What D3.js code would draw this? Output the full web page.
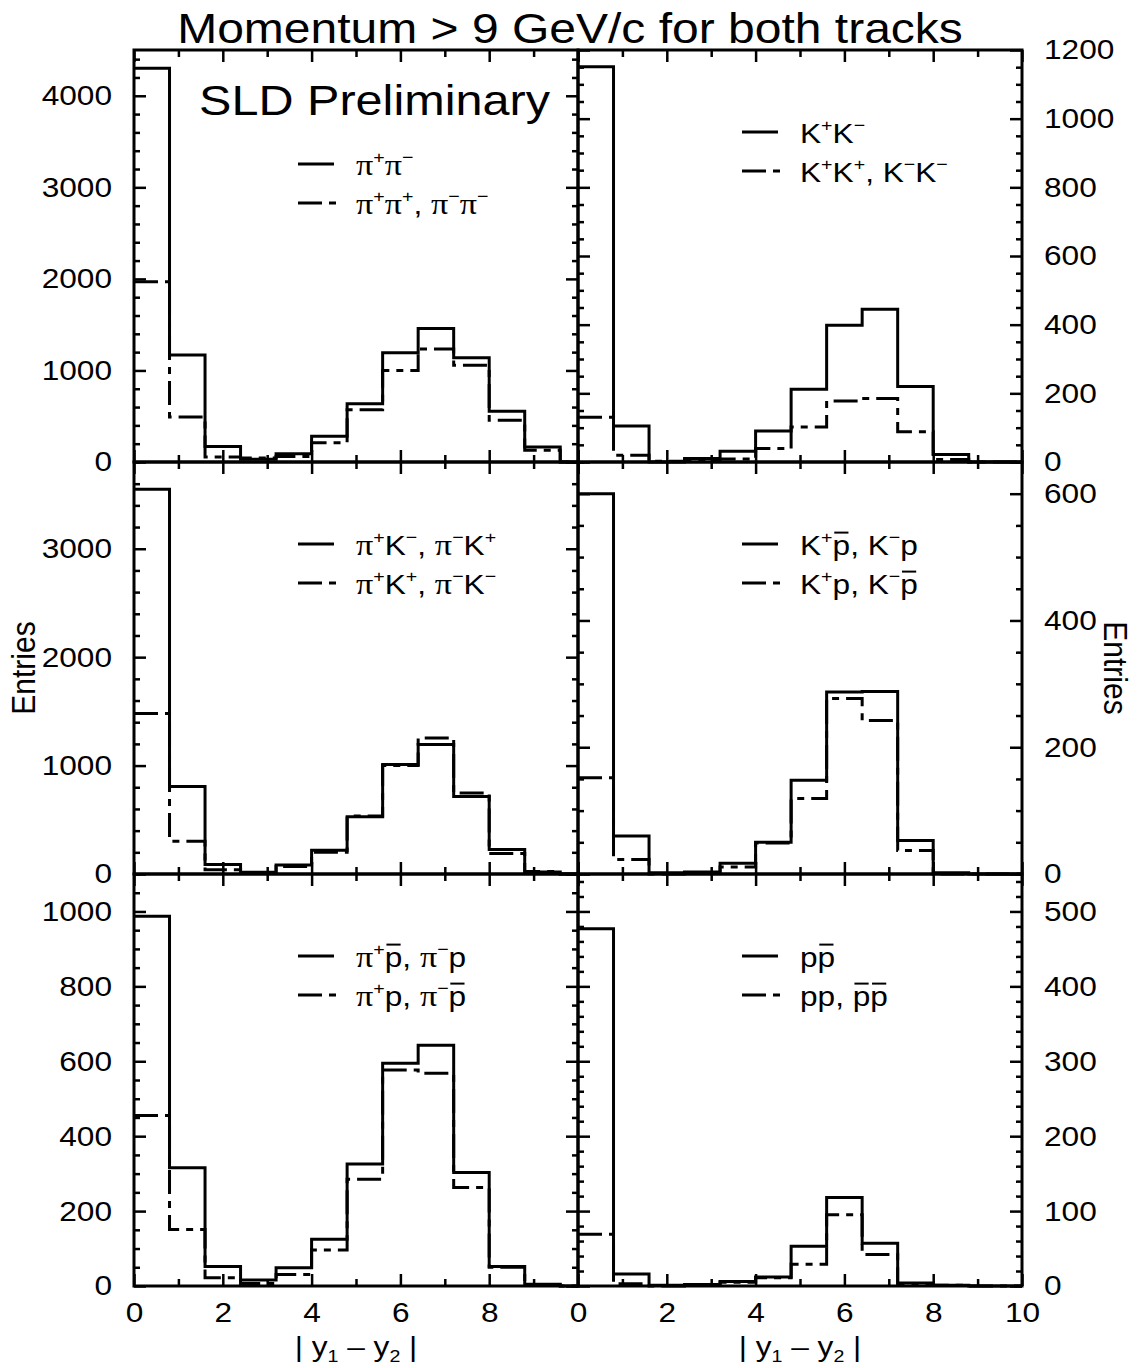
<!DOCTYPE html>
<html>
<head>
<meta charset="utf-8">
<script src="https://cdn.jsdelivr.net/npm/d3@7"></script>
<style>
  body { margin: 0; background: #fff; }
  svg { display: block; }
  text { font-family: "Liberation Sans", Arial, sans-serif; fill: #000; }
</style>
</head>
<body>
<svg id="chart" width="1140" height="1368"></svg>
<script>
// bin edges in |y1 - y2| (last edge closes the range)
const binEdges = [0, 0.8, 1.6, 2.4, 3.2, 4.0, 4.8, 5.6, 6.4, 7.2, 8.0, 8.8, 9.6, 10];

// entries per bin, opposite-charge (solid) and same-charge (dashed)
const pipiOpp  = [4300, 1170, 170, 30, 90, 280, 636, 1193, 1458, 1138, 553, 164, 0];
const pipiSame = [1970, 491, 55, 45, 60, 211, 571, 1000, 1233, 1058, 455, 127, 0];
const kkOpp    = [1151, 105, 0, 10, 31, 90, 212, 398, 445, 220, 22, 0, 0];
const kkSame   = [130, 20, 2, 7, 9, 39, 102, 178, 185, 88, 7, 0, 0];
const piKOpp   = [3548, 808, 87, 15, 84, 220, 529, 1009, 1195, 715, 226, 19, 0];
const piKSame  = [1480, 303, 40, 10, 70, 201, 535, 1000, 1254, 746, 189, 22, 0];
const kpOpp    = [600, 60, 2, 3, 17, 50, 148, 287, 288, 53, 2, 0, 0];
const kpSame   = [152, 23, 0, 2, 11, 49, 119, 277, 242, 37, 0, 0, 0];
const pipOpp   = [987, 316, 52, 16, 49, 125, 326, 595, 643, 303, 52, 5, 0];
const pipSame  = [455, 151, 22, 7, 31, 96, 285, 577, 568, 263, 50, 3, 0];
const ppOpp    = [477, 16, 1, 2, 6, 12, 53, 118, 57, 4, 1, 0, 0];
const ppSame   = [69, 3, 0, 2, 5, 11, 29, 95, 42, 2, 1, 0, 0];

const solidSeries  = [pipiOpp, kkOpp, piKOpp, kpOpp, pipOpp, ppOpp];
const dashedSeries = [pipiSame, kkSame, piKSame, kpSame, pipSame, ppSame];

// legend labels: ^x = superscript, _x = subscript, {p} = overlined p
const solidLabels  = ['π^+π^−', 'K^+K^−', 'π^+K^−, π^−K^+', 'K^+{p}, K^−p', 'π^+{p}, π^−p', 'p{p}'];
const dashedLabels = ['π^+π^+, π^−π^−', 'K^+K^+, K^−K^−', 'π^+K^+, π^−K^−', 'K^+p, K^−{p}', 'π^+p, π^−{p}', 'pp, {p}{p}'];

// y axis ranges and tick steps per panel
const yMax   = [4500, 1200, 3800, 650, 1100, 550];
const yMajor = [1000, 200, 1000, 200, 200, 100];
const yMinor = [200, 50, 200, 50, 50, 20];

const xMajorTicks = [0, 2, 4, 6, 8, 10];
const xMinorTicks = [1, 3, 5, 7, 9];
const xLabelsLeft = [0, 2, 4, 6, 8];
const xLabelsRight = [0, 2, 4, 6, 8, 10];

const svg = d3.select('#chart');
const colX = [134, 578];
const colW = 444;
const rowY = [50, 462, 874];
const rowH = 412;
const SX = 1.13;          // the original lettering is a bit wider than Arial
const DASH = '24,7,7,7';

function richText(parent, x, y, str, size, anchor) {
  const g = parent.append('g').attr('transform', `translate(${x},${y}) scale(${SX},1)`);
  const t = g.append('text')
    .attr('font-size', size)
    .attr('text-anchor', anchor || 'start');
  let cur = 0, idx = 0;
  const bars = [];
  const put = (s, shift, opts) => {
    const ts = t.append('tspan').text(s).attr('dy', shift - cur);
    cur = shift;
    if (opts.small) ts.attr('font-size', size * 0.62);
    if (opts.serif) ts.attr('font-family', '"Liberation Serif", "Times New Roman", serif').attr('font-size', size * 1.08);
    if (opts.over) bars.push(idx);
    idx += s.length;
  };
  for (let k = 0; k < str.length; k++) {
    const c = str[k];
    if (c === '^') { put(str[++k], -size * 0.42, { small: true }); }
    else if (c === '_') { put(str[++k], size * 0.22, { small: true }); }
    else if (c === '{') {
      const end = str.indexOf('}', k);
      for (const ch of str.slice(k + 1, end)) put(ch, 0, { over: true });
      k = end;
    }
    else if (c === 'π') { put(c, 0, { serif: true }); }
    else { put(c, 0, {}); }
  }
  // overbars drawn as separate short strokes, one per letter
  const node = t.node();
  bars.forEach(ci => {
    const a = node.getStartPositionOfChar(ci).x;
    const b = node.getEndPositionOfChar(ci).x;
    g.append('line').attr('x1', a + 1.5).attr('x2', b - 1.5)
      .attr('y1', -size * 0.8).attr('y2', -size * 0.8)
      .attr('stroke', '#000').attr('stroke-width', 2);
  });
  return g;
}

function styleAxis(ag, w) {
  ag.select('.domain').remove();
  ag.selectAll('line').attr('stroke', '#000').attr('stroke-width', w);
  ag.selectAll('text').attr('font-size', 28).attr('font-family', '"Liberation Sans", Arial, sans-serif').attr('fill', '#000');
}

function drawPanel(i) {
  const col = i % 2, row = Math.floor(i / 2);
  const x0 = colX[col], y0 = rowY[row];
  const x = d3.scaleLinear().domain([0, 10]).range([x0, x0 + colW]);
  const y = d3.scaleLinear().domain([0, yMax[i]]).range([y0 + rowH, y0]);
  const g = svg.append('g');

  const majT = d3.range(0, yMax[i] + 0.5, yMajor[i]);
  const minT = d3.range(0, yMax[i] + 0.5, yMinor[i]).filter(v => v % yMajor[i] !== 0);

  // y ticks, inward on both sides
  [[d3.axisLeft, x0], [d3.axisRight, x0 + colW]].forEach(([fn, xp], side) => {
    const labelled = side === col;
    const a1 = g.append('g').attr('transform', `translate(${xp},0)`)
      .call(fn(y).tickValues(minT).tickSize(-6).tickFormat(''));
    styleAxis(a1, 2.5);
    const a2 = g.append('g').attr('transform', `translate(${xp},0)`)
      .call(fn(y).tickValues(majT).tickSize(-12).tickPadding(22).tickFormat(labelled ? d3.format('d') : ''));
    styleAxis(a2, 2.5);
    a2.selectAll('text').each(function() {
      const el = d3.select(this);
      const tx = +el.attr('x');
      el.attr('x', 0).attr('transform', `translate(${tx},0) scale(${SX},1)`);
    });
  });

  // x ticks, inward on top and bottom
  [[d3.axisTop, y0], [d3.axisBottom, y0 + rowH]].forEach(([fn, yp], side) => {
    const labelled = side === 1 && row === 2;
    const a1 = g.append('g').attr('transform', `translate(0,${yp})`)
      .call(fn(x).tickValues(xMinorTicks).tickSize(-7).tickFormat(''));
    styleAxis(a1, 2.5);
    const ticks = labelled ? (col === 0 ? xLabelsLeft : xLabelsRight) : xMajorTicks;
    const a2 = g.append('g').attr('transform', `translate(0,${yp})`)
      .call(fn(x).tickValues(ticks).tickSize(-12).tickPadding(16).tickFormat(labelled ? d3.format('d') : ''));
    styleAxis(a2, 2.5);
    a2.selectAll('text').each(function() {
      const el = d3.select(this);
      const ty = +el.attr('y');
      el.attr('y', 0).attr('transform', `translate(0,${ty}) scale(${SX},1)`);
    });
  });

  // histograms
  const step = d3.line().x(d => x(d[0])).y(d => y(d[1])).curve(d3.curveStepAfter);
  const pts = vals => vals.map((v, k) => [binEdges[k], v]).concat([[binEdges[vals.length], vals[vals.length - 1]]]);
  g.append('path').datum(pts(dashedSeries[i])).attr('d', step)
    .attr('fill', 'none').attr('stroke', '#000').attr('stroke-width', 3).attr('stroke-dasharray', DASH);
  g.append('path').datum(pts(solidSeries[i])).attr('d', step)
    .attr('fill', 'none').attr('stroke', '#000').attr('stroke-width', 3);

  // frame
  g.append('rect').attr('x', x0).attr('y', y0).attr('width', colW).attr('height', rowH)
    .attr('fill', 'none').attr('stroke', '#000').attr('stroke-width', 3);

  // legend
  const lx = x0 + 164, ly = y0 + (i === 0 ? 114 : 82);
  g.append('line').attr('x1', lx).attr('x2', lx + 36).attr('y1', ly).attr('y2', ly)
    .attr('stroke', '#000').attr('stroke-width', 3);
  g.append('line').attr('x1', lx).attr('x2', lx + 38).attr('y1', ly + 39).attr('y2', ly + 39)
    .attr('stroke', '#000').attr('stroke-width', 3).attr('stroke-dasharray', DASH);
  richText(g, lx + 58, ly + 11, solidLabels[i], 28);
  richText(g, lx + 58, ly + 50, dashedLabels[i], 28);
}

d3.range(6).forEach(drawPanel);

// titles
svg.append('text').attr('transform', `translate(570,43) scale(${SX},1)`)
  .attr('text-anchor', 'middle').attr('font-size', 42.5)
  .text('Momentum > 9 GeV/c for both tracks');
svg.append('text').attr('transform', `translate(199,115) scale(${SX},1)`)
  .attr('font-size', 43).text('SLD Preliminary');

// axis titles
richText(svg, colX[0] + colW / 2, 1356, '| y_1 – y_2 |', 28, 'middle');
richText(svg, colX[1] + colW / 2, 1356, '| y_1 – y_2 |', 28, 'middle');
svg.append('text').attr('transform', `translate(35,668) rotate(-90) scale(1,${SX})`)
  .attr('text-anchor', 'middle').attr('font-size', 30).text('Entries');
svg.append('text').attr('transform', `translate(1104,668) rotate(90) scale(1,${SX})`)
  .attr('text-anchor', 'middle').attr('font-size', 30).text('Entries');
</script>
</body>
</html>
